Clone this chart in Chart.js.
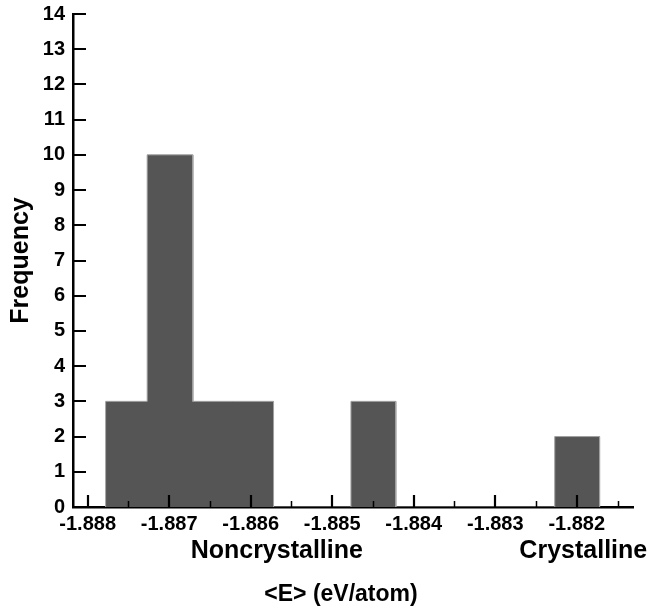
<!DOCTYPE html>
<html>
<head>
<meta charset="utf-8">
<script src="https://cdn.jsdelivr.net/npm/chart.js@4.4.1/dist/chart.umd.min.js"></script>
<style>
  html, body { margin: 0; padding: 0; background: #fff; }
  #wrap { width: 652px; height: 612px; }
</style>
</head>
<body>
<div id="wrap"><canvas id="c" width="652" height="612"></canvas></div>
<script>
// Histogram bins of mean energy per atom (eV/atom) and their counts
const binStart  = [-1.88778, -1.88727, -1.88671, -1.88622, -1.88477, -1.88227];
const binEnd    = [-1.88727, -1.88671, -1.88622, -1.88572, -1.88422, -1.88172];
const frequency = [3, 10, 3, 3, 3, 2];

// Axis ticks
const xTicks      = [-1.888, -1.887, -1.886, -1.885, -1.884, -1.883, -1.882];
const xMinorTicks = [-1.8875, -1.8865, -1.8855, -1.8845, -1.8835, -1.8825, -1.8815];
const yTicks      = [0, 1, 2, 3, 4, 5, 6, 7, 8, 9, 10, 11, 12, 13, 14];

// Region annotations under the energy axis
const regionNames   = ['Noncrystalline', 'Crystalline'];
const regionCenters = [-1.88568, -1.88192];

const FONT = '"Liberation Sans", Arial, Helvetica, sans-serif';

// Outline of the histogram: adjacent bins share an edge, separated bins drop to zero
function histogramOutline() {
  const pts = [];
  let prevEnd = null;
  for (let i = 0; i < frequency.length; i++) {
    if (prevEnd === null || binStart[i] !== prevEnd) {
      if (prevEnd !== null) pts.push({ x: prevEnd, y: 0 });
      pts.push({ x: binStart[i], y: 0 });
    }
    pts.push({ x: binStart[i], y: frequency[i] });
    pts.push({ x: binEnd[i], y: frequency[i] });
    prevEnd = binEnd[i];
  }
  pts.push({ x: prevEnd, y: 0 });
  return pts;
}

// Inward tick marks plus the region labels and the energy-axis title
const axisDecor = {
  id: 'axisDecor',
  afterDraw(chart) {
    const { ctx, chartArea: a, scales: { x, y } } = chart;
    ctx.save();
    ctx.strokeStyle = '#000';
    ctx.lineWidth = 2.2;
    ctx.beginPath();
    xTicks.forEach(v => {
      const px = Math.round(x.getPixelForValue(v));
      ctx.moveTo(px, a.bottom); ctx.lineTo(px, a.bottom - 12);
    });
    yTicks.forEach(v => {
      const py = Math.round(y.getPixelForValue(v));
      ctx.moveTo(a.left, py); ctx.lineTo(a.left + 13, py);
    });
    ctx.stroke();
    ctx.lineWidth = 1.5;
    ctx.beginPath();
    xMinorTicks.forEach(v => {
      const px = Math.round(x.getPixelForValue(v)) + 0.5;
      ctx.moveTo(px, a.bottom); ctx.lineTo(px, a.bottom - 6);
    });
    ctx.stroke();

    ctx.fillStyle = '#000';
    ctx.textAlign = 'center';
    ctx.textBaseline = 'alphabetic';
    ctx.font = 'bold 25px ' + FONT;
    regionNames.forEach((t, i) => {
      ctx.fillText(t, x.getPixelForValue(regionCenters[i]), a.bottom + 51);
    });
    ctx.font = 'bold 23px ' + FONT;
    ctx.fillText('<E> (eV/atom)', (a.left + a.right) / 2 - 12, a.bottom + 94);
    ctx.restore();
  }
};

new Chart(document.getElementById('c'), {
  type: 'line',
  data: {
    datasets: [{
      data: histogramOutline(),
      fill: 'origin',
      backgroundColor: '#555555',
      borderColor: '#a0a0a0',
      borderWidth: 1,
      pointRadius: 0,
      tension: 0
    }]
  },
  options: {
    responsive: false,
    animation: false,
    devicePixelRatio: 1,
    layout: { padding: { top: 14, right: 19, left: 0, bottom: 0 } },
    plugins: { legend: { display: false }, tooltip: { enabled: false } },
    scales: {
      x: {
        type: 'linear',
        min: -1.88818,
        max: -1.88131,
        z: 1,
        afterBuildTicks: s => { s.ticks = xTicks.map(v => ({ value: v })); },
        afterFit: s => { s.height = 105; s.paddingLeft = 0; s.paddingRight = 0; },
        grid: { drawOnChartArea: false, drawTicks: false },
        border: { display: true, color: '#000', width: 2.5 },
        ticks: {
          padding: 5, color: '#000', autoSkip: false, maxRotation: 0,
          font: { family: FONT, size: 20, weight: 'bold' },
          callback: v => Number(v).toFixed(3)
        }
      },
      y: {
        min: 0,
        max: 14,
        z: 1,
        afterBuildTicks: s => { s.ticks = yTicks.map(v => ({ value: v })); },
        afterFit: s => { s.width = 73; s.paddingTop = 0; s.paddingBottom = 0; },
        grid: { drawOnChartArea: false, drawTicks: false },
        border: { display: true, color: '#000', width: 2.5 },
        ticks: {
          padding: 8, color: '#000',
          font: { family: FONT, size: 20, weight: 'bold' }
        },
        title: {
          display: true, text: 'Frequency', color: '#000',
          font: { family: FONT, size: 25, weight: 'bold' },
          padding: { top: 6, bottom: 0 }
        }
      }
    }
  },
  plugins: [axisDecor]
});
</script>
</body>
</html>
